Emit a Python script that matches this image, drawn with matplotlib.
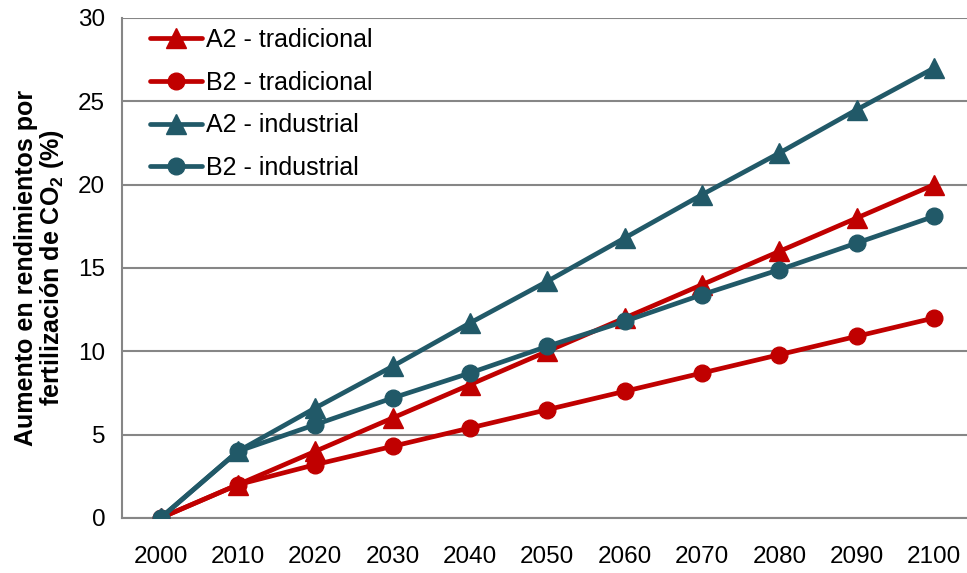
import matplotlib

matplotlib.use("Agg")
import matplotlib.pyplot as plt
import numpy as np

plt.rcParams["font.family"] = ["Liberation Sans", "DejaVu Sans"]

years = ["2000", "2010", "2020", "2030", "2040", "2050",
         "2060", "2070", "2080", "2090", "2100"]
a2_tradicional = [0, 2, 4, 6, 8, 10, 12, 14, 16, 18, 20]
b2_tradicional = [0, 2, 3.2, 4.3, 5.4, 6.5, 7.6, 8.7, 9.8, 10.9, 12]
a2_industrial = [0, 4, 6.6, 9.1, 11.7, 14.2, 16.8, 19.4, 21.9, 24.5, 27]
b2_industrial = [0, 4, 5.6, 7.2, 8.7, 10.3, 11.8, 13.4, 14.9, 16.5, 18.1]

RED = "#C00000"
TEAL = "#215968"
GRID = "#868686"

fig = plt.figure(figsize=(9.67, 5.73), dpi=100)
ax = fig.add_axes([0.126, 0.096, 0.880, 0.8726])

x = np.arange(len(years))
series = [
    ("A2 - tradicional", a2_tradicional, RED, "^", 14),
    ("B2 - tradicional", b2_tradicional, RED, "o", 12),
    ("A2 - industrial", a2_industrial, TEAL, "^", 14),
    ("B2 - industrial", b2_industrial, TEAL, "o", 12),
]
for label, vals, color, marker, ms in series:
    ax.plot(x, vals, color=color, lw=3.4, marker=marker, ms=ms,
            label=label, solid_capstyle="round", zorder=3)

ax.set_xlim(-0.5, len(years) - 0.5)
ax.set_ylim(0, 30)
ax.set_yticks(range(0, 31, 5))
ax.set_xticks(x)
ax.set_xticklabels(years)
ax.yaxis.grid(True, color=GRID, lw=1.5)
ax.set_axisbelow(True)
for side in ("top", "right"):
    ax.spines[side].set_visible(False)
for side in ("left", "bottom"):
    ax.spines[side].set_color(GRID)
    ax.spines[side].set_linewidth(1.5)
ax.tick_params(length=0, labelsize=17.5)
ax.tick_params(axis="y", pad=12)
ax.tick_params(axis="x", pad=20)

ax.set_ylabel("Aumento en rendimientos por\nfertilización de CO$_\\mathregular{2}$ (%)",
              fontsize=18, fontweight="bold", labelpad=9, linespacing=1.0)

ax.legend(loc="upper left", bbox_to_anchor=(0.015, 1.01), frameon=False,
          fontsize=18, handlelength=2.1, handletextpad=0.15,
          labelspacing=0.75, borderaxespad=0.2)

fig.savefig("out.png", dpi=100)
